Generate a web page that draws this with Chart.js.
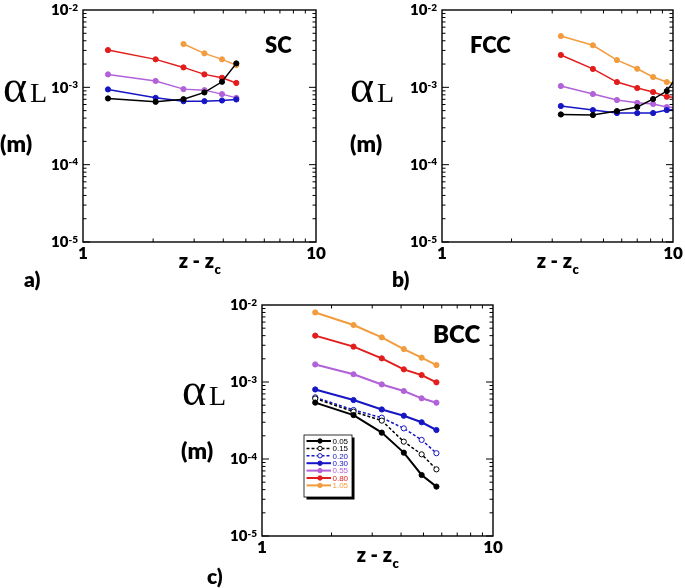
<!DOCTYPE html>
<html>
<head>
<meta charset="utf-8">
<script src="https://cdn.jsdelivr.net/npm/chart.js@4.4.1/dist/chart.umd.min.js"></script>
<style>
  body { margin: 0; background: #fff; }
  #page { position: relative; width: 685px; height: 588px; overflow: hidden; }
  canvas { position: absolute; }
</style>
</head>
<body>
<div id="page">
  <canvas id="scChart" width="340" height="295" style="left:0;top:0"></canvas>
  <canvas id="fccChart" width="343" height="295" style="left:342px;top:0"></canvas>
  <canvas id="bccChart" width="335" height="296" style="left:175px;top:292px"></canvas>
</div>
<script>
// tick labels
const xTicks = [1, 10];
const yExps = [-5, -4, -3, -2];
const legendLabels = ['0.05', '0.15', '0.20', '0.30', '0.55', '0.80', '1.05'];

// a) SC
const scX = [1.28, 2.05, 2.7, 3.32, 3.95, 4.55];
const scBlack = [0.718e-3, 0.649e-3, 0.703e-3, 0.859e-3, 1.18e-3, 2.04e-3];
const scBlue = [0.94e-3, 0.731e-3, 0.662e-3, 0.662e-3, 0.676e-3, 0.697e-3];
const scPurple = [1.47e-3, 1.21e-3, 0.948e-3, 0.92e-3, 0.817e-3, 0.731e-3];
const scRed = [3.03e-3, 2.30e-3, 1.81e-3, 1.47e-3, 1.33e-3, 1.14e-3];
const scOrange = [null, null, 3.63e-3, 2.75e-3, 2.30e-3, 1.94e-3];

// b) FCC
const fccX = [3.27, 4.5, 5.72, 7.0, 8.2, 9.4, 10.6];
const fccBlack = [0.446e-3, 0.438e-3, 0.493e-3, 0.556e-3, 0.706e-3, 0.895e-3, 1.5e-3];
const fccBlue = [0.573e-3, 0.508e-3, 0.465e-3, 0.465e-3, 0.465e-3, 0.508e-3, 0.52e-3];
const fccPurple = [1.04e-3, 0.82e-3, 0.685e-3, 0.63e-3, 0.61e-3, 0.556e-3, 0.54e-3];
const fccRed = [2.62e-3, 1.73e-3, 1.17e-3, 0.98e-3, 0.87e-3, 0.757e-3, 0.73e-3];
const fccOrange = [4.6e-3, 3.5e-3, 2.25e-3, 1.74e-3, 1.36e-3, 1.17e-3, 1.1e-3];

// c) BCC
const bccX = [1.70, 2.49, 3.30, 4.11, 4.91, 5.69];
const bcc005 = [0.54e-3, 0.372e-3, 0.22e-3, 0.121e-3, 0.062e-3, 0.0438e-3];
const bcc015 = [0.61e-3, 0.412e-3, 0.315e-3, 0.168e-3, 0.115e-3, 0.0734e-3];
const bcc020 = [0.632e-3, 0.433e-3, 0.344e-3, 0.25e-3, 0.177e-3, 0.119e-3];
const bcc030 = [0.80e-3, 0.583e-3, 0.44e-3, 0.365e-3, 0.30e-3, 0.238e-3];
const bcc055 = [1.69e-3, 1.26e-3, 0.93e-3, 0.764e-3, 0.614e-3, 0.539e-3];
const bcc080 = [4.0e-3, 2.88e-3, 2.03e-3, 1.46e-3, 1.23e-3, 0.99e-3];
const bcc105 = [8.0e-3, 5.5e-3, 3.8e-3, 2.68e-3, 2.07e-3, 1.66e-3];

const BLACK = '#000000', BLUE = '#1616c4', PURPLE = '#b262d8', RED = '#e31c1c', ORANGE = '#f29c3e';
const BOLD = 'Lato, "Open Sans", sans-serif';
const W = '800 ';

function pts(xs, ys) {
  return xs.map((x, i) => ({ x: x, y: ys[i] })).filter(p => p.y != null);
}

function series(label, xs, ys, color, width, dashed, open) {
  return {
    label: label,
    data: pts(xs, ys),
    borderColor: color,
    backgroundColor: open ? '#ffffff' : color,
    pointBackgroundColor: open ? '#ffffff' : color,
    pointBorderColor: color,
    pointBorderWidth: 1,
    pointRadius: 2.6,
    borderWidth: width,
    borderDash: dashed ? [3, 2] : [],
    tension: 0,
    fill: false
  };
}

// axes frame, inward ticks, labels and titles
const panelDeco = {
  id: 'panelDeco',
  afterDatasetsDraw(chart, args, o) {
    const ctx = chart.ctx, a = chart.chartArea;
    const x = chart.scales.x, y = chart.scales.y;
    ctx.save();
    ctx.strokeStyle = '#000';
    ctx.lineWidth = 1;
    ctx.beginPath();
    for (let d = 2; d < 10; d++) {
      const px = x.getPixelForValue(d);
      ctx.moveTo(px, a.bottom); ctx.lineTo(px, a.bottom - 3.5);
      ctx.moveTo(px, a.top); ctx.lineTo(px, a.top + 3.5);
    }
    for (let e = yExps[0]; e < yExps[yExps.length - 1]; e++) {
      for (let m = 1; m < 10; m++) {
        const py = y.getPixelForValue(m * Math.pow(10, e));
        const len = m == 1 ? 7 : 3.5;
        ctx.moveTo(a.left, py); ctx.lineTo(a.left + len, py);
        ctx.moveTo(a.right, py); ctx.lineTo(a.right - len, py);
      }
    }
    ctx.stroke();
    ctx.lineWidth = 1.4;
    ctx.strokeRect(a.left, a.top, a.right - a.left, a.bottom - a.top);

    ctx.fillStyle = '#000';
    // y tick labels 10^n
    yExps.forEach(e => {
      const py = y.getPixelForValue(Math.pow(10, e));
      ctx.font = W + '10px ' + BOLD;
      const sup = String(e);
      const sw = ctx.measureText(sup).width;
      ctx.textAlign = 'left';
      ctx.textBaseline = 'alphabetic';
      ctx.fillText(sup, a.left - 5 - sw, py + 0.5);
      ctx.font = W + '15px ' + BOLD;
      ctx.textAlign = 'right';
      ctx.textBaseline = 'middle';
      ctx.fillText('10', a.left - 5 - sw, py + 0.5);
    });
    // x tick labels
    ctx.font = W + '17px ' + BOLD;
    ctx.textAlign = 'center';
    ctx.textBaseline = 'middle';
    xTicks.forEach(v => ctx.fillText(String(v), x.getPixelForValue(v), a.bottom + 12));

    // x title: z - z_c
    const cx = (a.left + a.right) / 2;
    ctx.textBaseline = 'alphabetic';
    ctx.textAlign = 'left';
    ctx.font = W + '20px ' + BOLD;
    const main = 'z - z';
    const mw = ctx.measureText(main).width;
    ctx.font = W + '13px ' + BOLD;
    const cw = ctx.measureText('c').width;
    const x0 = cx - (mw + cw) / 2;
    ctx.font = W + '20px ' + BOLD;
    ctx.fillText(main, x0, a.bottom + 26);
    ctx.font = W + '13px ' + BOLD;
    ctx.fillText('c', x0 + mw + 0.5, a.bottom + 32);

    // y title: alpha_L and (m)
    ctx.font = '46px "Liberation Serif", "DejaVu Serif", serif';
    ctx.fillText('\u03B1', o.alphaX, o.alphaY);
    ctx.font = '28px "Liberation Serif", "DejaVu Serif", serif';
    ctx.fillText('L', o.alphaX + 27, o.alphaY);
    ctx.font = W + '23px ' + BOLD;
    ctx.fillText('(m)', o.unitX, o.unitY);

    // panel letter and lattice name
    ctx.font = W + '21px ' + BOLD;
    ctx.fillText(o.letter, o.letterX, o.letterY);
    ctx.font = W + o.nameSize + 'px ' + BOLD;
    ctx.fillText(o.name, o.nameX, o.nameY);

    // legend box (panel c)
    if (o.legend) {
      const L = o.legend;
      ctx.fillStyle = '#000';
      ctx.fillRect(L.x + 2.5, L.y + 2.5, L.w, L.h);
      ctx.fillStyle = '#fff';
      ctx.fillRect(L.x, L.y, L.w, L.h);
      ctx.lineWidth = 0.8;
      ctx.strokeStyle = '#000';
      ctx.strokeRect(L.x, L.y, L.w, L.h);
      ctx.font = '8px "Liberation Sans", Arial, sans-serif';
      ctx.textBaseline = 'middle';
      chart.data.datasets.forEach((ds, i) => {
        const ry = L.y + 6 + i * 7.4;
        ctx.strokeStyle = ds.borderColor;
        ctx.lineWidth = ds.borderWidth;
        ctx.setLineDash(ds.borderDash);
        ctx.beginPath();
        ctx.moveTo(L.x + 2.5, ry); ctx.lineTo(L.x + 27, ry);
        ctx.stroke();
        ctx.setLineDash([]);
        ctx.lineWidth = 1;
        ctx.fillStyle = ds.pointBackgroundColor;
        ctx.beginPath();
        ctx.arc(L.x + 16, ry, 2.2, 0, Math.PI * 2);
        ctx.fill();
        ctx.stroke();
        ctx.fillStyle = ds.borderColor;
        ctx.fillText(ds.label, L.x + 28.5, ry + 0.5);
      });
    }
    ctx.restore();
  }
};

function makeChart(id, datasets, pad, deco) {
  return new Chart(document.getElementById(id), {
    type: 'line',
    data: { datasets: datasets },
    options: {
      responsive: false,
      animation: false,
      layout: { padding: pad },
      scales: {
        x: { type: 'logarithmic', min: 1, max: 10, display: false },
        y: { type: 'logarithmic', min: 1e-5, max: 1e-2, display: false }
      },
      plugins: {
        legend: { display: false },
        tooltip: { enabled: false },
        panelDeco: deco
      }
    },
    plugins: [panelDeco]
  });
}

makeChart('scChart', [
  series('0.05', scX, scBlack, BLACK, 1.5),
  series('0.30', scX, scBlue, BLUE, 1.5),
  series('0.55', scX, scPurple, PURPLE, 1.5),
  series('0.80', scX, scRed, RED, 1.5),
  series('1.05', scX, scOrange, ORANGE, 1.5)
], { left: 83, top: 10, right: 24, bottom: 53 }, {
  alphaX: 3, alphaY: 102, unitX: 0, unitY: 152,
  letter: 'a)', letterX: 24, letterY: 287,
  name: 'SC', nameSize: 22, nameX: 265, nameY: 53
});

makeChart('fccChart', [
  series('0.05', fccX, fccBlack, BLACK, 1.5),
  series('0.30', fccX, fccBlue, BLUE, 1.5),
  series('0.55', fccX, fccPurple, PURPLE, 1.5),
  series('0.80', fccX, fccRed, RED, 1.5),
  series('1.05', fccX, fccOrange, ORANGE, 1.5)
], { left: 100, top: 10, right: 12, bottom: 53 }, {
  alphaX: 8, alphaY: 102, unitX: 8, unitY: 152,
  letter: 'b)', letterX: 50, letterY: 287,
  name: 'FCC', nameSize: 22, nameX: 128, nameY: 53
});

makeChart('bccChart', [
  series(legendLabels[0], bccX, bcc005, BLACK, 2),
  series(legendLabels[1], bccX, bcc015, BLACK, 1.5, true, true),
  series(legendLabels[2], bccX, bcc020, BLUE, 1.5, true, true),
  series(legendLabels[3], bccX, bcc030, BLUE, 2),
  series(legendLabels[4], bccX, bcc055, PURPLE, 2),
  series(legendLabels[5], bccX, bcc080, RED, 2),
  series(legendLabels[6], bccX, bcc105, ORANGE, 2)
], { left: 87, top: 13, right: 17, bottom: 52 }, {
  alphaX: 7, alphaY: 113, unitX: 6, unitY: 167,
  letter: 'c)', letterX: 32, letterY: 292,
  name: 'BCC', nameSize: 24, nameX: 258, nameY: 51,
  legend: { x: 129, y: 143, w: 48, h: 62 }
});
</script>
</body>
</html>
